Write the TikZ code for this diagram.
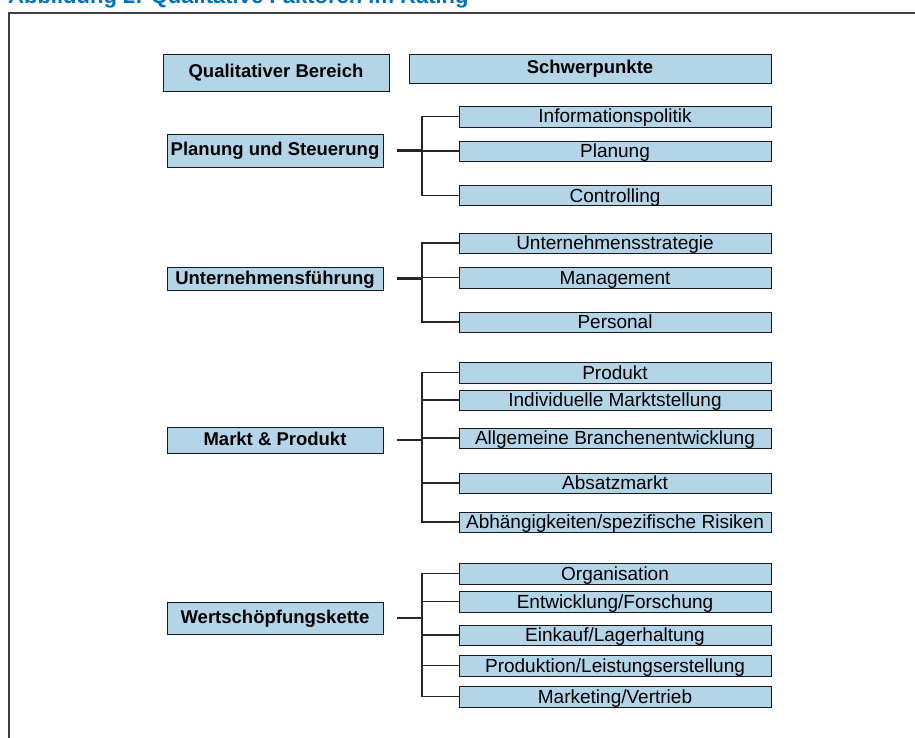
\documentclass[tikz,border=0pt]{standalone}
\usepackage{fontspec}
\setmainfont{Liberation Sans}
\usetikzlibrary{shadows}
\definecolor{boxblue}{RGB}{180,212,232}
\definecolor{titleblue}{RGB}{0,114,188}

\begin{document}
\begin{tikzpicture}[x=1pt, y=-1pt,
    kasten/.style={draw=black!90, line width=0.9pt, fill=boxblue, inner sep=0pt,
      drop shadow={shadow xshift=0.8pt, shadow yshift=-0.8pt,
                   opacity=1, fill=black!85}},
    bereich/.style={kasten, minimum width=216pt,
      font=\fontsize{18.5}{20}\selectfont\bfseries,
      text height=13pt, text depth=2pt},
    punkt/.style={kasten, minimum width=312pt, minimum height=20pt,
      font=\fontsize{19}{21}\selectfont,
      text height=14pt, text depth=1pt},
    ast/.style={line width=1.4pt, black!85},
    stamm/.style={line width=2.2pt, black!85}]
    \useasboundingbox (0,0) rectangle (915,738) ;

    % Titel und Rahmen
    \node [anchor=base west, inner sep=0pt, text=titleblue,
           font=\fontsize{22}{24}\selectfont\bfseries] (titel)
          at (8,4) {Abbildung 2: Qualitative Faktoren im Rating} ;
    \draw [black!75, line width=1.3pt] (9,738) -- (9,13) -- (915,13) ;

    % Kopfzeile
    \node [bereich, minimum width=226pt, minimum height=37pt] (kopfl)
          at (276,72.5) {Qualitativer Bereich} ;
    \node [bereich, minimum width=362pt, minimum height=29pt] (kopfr)
          at (590,68.5) {Schwerpunkte} ;

    \coordinate (gabel) at (422,0) ;

    % Planung und Steuerung
    \node [bereich, minimum height=33pt] (ps) at (275,150.5)
          {Planung und Steuerung} ;
    \node [punkt, minimum height=21pt] (info) at (615,116.5) {Informationspolitik} ;
    \node [punkt] (plan)  at (615,151.0) {Planung} ;
    \node [punkt] (contr) at (615,195.5) {Controlling} ;
    \draw [stamm] ([xshift=14pt]ps.east) -- (ps.east -| gabel) ;
    \draw [ast] (info.west) -- (info.west -| gabel) -- (contr.west -| gabel)
          -- (contr.west) ;
    \draw [ast] (plan.west) -- (plan.west -| gabel) ;

    % Unternehmensfuehrung
    \node [bereich, minimum height=23pt] (uf) at (275,278.5)
          {Unternehmensführung} ;
    \node [punkt] (strat) at (615,243.0) {Unternehmensstrategie} ;
    \node [punkt, minimum height=21pt] (mgmt) at (615,277.5) {Management} ;
    \node [punkt] (pers)  at (615,322.0) {Personal} ;
    \draw [stamm] ([xshift=14pt]uf.east) -- (uf.east -| gabel) ;
    \draw [ast] (strat.west) -- (strat.west -| gabel) -- (pers.west -| gabel)
          -- (pers.west) ;
    \draw [ast] (mgmt.west) -- (mgmt.west -| gabel) ;

    % Markt und Produkt
    \node [bereich, minimum height=26pt] (mp) at (275,440.0)
          {Markt \& Produkt} ;
    \node [punkt, minimum height=21pt] (prod) at (615,372.5) {Produkt} ;
    \node [punkt] (markt)   at (615,400.0) {Individuelle Marktstellung} ;
    \node [punkt] (branche) at (615,438.0) {Allgemeine Branchenentwicklung} ;
    \node [punkt] (absatz)  at (615,483.0) {Absatzmarkt} ;
    \node [punkt] (risik)   at (615,522.0) {Abhängigkeiten/spezifische Risiken} ;
    \draw [stamm] ([xshift=14pt]mp.east) -- (mp.east -| gabel) ;
    \draw [ast] (prod.west) -- (prod.west -| gabel) -- (risik.west -| gabel)
          -- (risik.west) ;
    \draw [ast] (markt.west) -- (markt.west -| gabel) ;
    \draw [ast] (branche.west) -- (branche.west -| gabel) ;
    \draw [ast] (absatz.west) -- (absatz.west -| gabel) ;

    % Wertschoepfungskette
    \node [bereich, minimum height=32pt] (wk) at (275,618.0)
          {Wertschöpfungskette} ;
    \node [punkt, minimum height=21pt] (orga) at (615,573.5) {Organisation} ;
    \node [punkt, minimum height=21pt] (entw) at (615,601.5) {Entwicklung/Forschung} ;
    \node [punkt] (eink)  at (615,635.0) {Einkauf/Lagerhaltung} ;
    \node [punkt, minimum height=21pt] (leist) at (615,665.5) {Produktion/Leistungserstellung} ;
    \node [punkt, minimum height=21pt] (vertr) at (615,696.5) {Marketing/Vertrieb} ;
    \draw [stamm] ([xshift=14pt]wk.east) -- (wk.east -| gabel) ;
    \draw [ast] (orga.west) -- (orga.west -| gabel) -- (vertr.west -| gabel)
          -- (vertr.west) ;
    \draw [ast] (entw.west) -- (entw.west -| gabel) ;
    \draw [ast] (eink.west) -- (eink.west -| gabel) ;
    \draw [ast] (leist.west) -- (leist.west -| gabel) ;
\end{tikzpicture}
\end{document}
